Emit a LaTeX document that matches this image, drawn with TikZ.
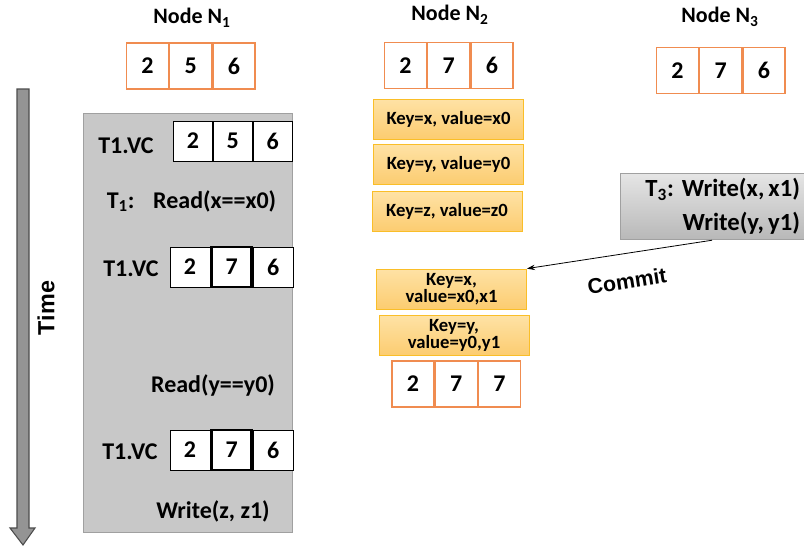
\documentclass[tikz,border=0pt]{standalone}
\usepackage{fontspec}
\setmainfont{Carlito}
\newfontfamily\arialfont{Liberation Sans}
\usetikzlibrary{positioning,arrows.meta}

\definecolor{cellorange}{RGB}{240,140,80}
\definecolor{keyedge}{RGB}{250,190,40}
\definecolor{keytop}{RGB}{254,226,165}
\definecolor{keybot}{RGB}{252,204,112}
\definecolor{boxgray}{RGB}{200,200,200}
\definecolor{boxedge}{RGB}{160,160,160}

\tikzset{
  ncell/.style={draw=cellorange, line width=0.9pt, fill=white, minimum width=31.5pt,
    minimum height=34.5pt, inner sep=0pt, font=\fontsize{18}{20}\selectfont\bfseries},
  vccell/.style={draw=black, line width=0.6pt, fill=white, minimum width=30pt,
    minimum height=30pt, inner sep=0pt, font=\fontsize{18}{20}\selectfont\bfseries},
  newcell/.style={vccell, line width=1.8pt},
  keybox/.style={draw=keyedge, line width=0.6pt, top color=keytop, bottom color=keybot,
    minimum width=112.5pt, minimum height=30pt, inner sep=1pt, align=center,
    font=\fontsize{14}{12.8}\selectfont\bfseries},
  title/.style={font=\fontsize{16.5}{19}\selectfont\bfseries},
  lbl/.style={font=\fontsize{18}{21}\selectfont\bfseries},
}

\begin{document}
\begin{tikzpicture}[x=0.75pt, y=-0.75pt]
\useasboundingbox (0,0) rectangle (804,546);

% node titles and their clocks
\node[title] (t1) at (192,18) {Node N\textsubscript{1}};
\node[title] (t2) at (450,15) {Node N\textsubscript{2}};
\node[title] (t3n) at (720,17) {Node N\textsubscript{3}};

\node[ncell] (n1a) at (147.5,66) {2};
\node[ncell, right=0pt of n1a] (n1b) {5};
\node[ncell, right=0pt of n1b] (n1c) {6};

\node[ncell] (n2a) at (405.5,65.5) {2};
\node[ncell, right=0pt of n2a] (n2b) {7};
\node[ncell, right=0pt of n2b] (n2c) {6};

\node[ncell] (n3a) at (677.5,70.5) {2};
\node[ncell, right=0pt of n3a] (n3b) {7};
\node[ncell, right=0pt of n3b] (n3c) {6};

% time axis
\draw[draw=black!70, fill=black!42, line width=0.8pt]
  (17,89) -- (29,89) -- (29,528) -- (35,528) -- (23,545) -- (10,528) -- (17,528) -- cycle;
\node[rotate=90, font=\arialfont\fontsize{17.5}{20}\selectfont\bfseries] (time) at (46,308) {Time};

% transaction T1 on N1
\draw[draw=boxedge, fill=boxgray, line width=0.6pt] (83,113) rectangle (292,532);

\node[lbl] (vc1) at (126,146) {T1.VC};
\node[vccell, minimum width=29.25pt] (vc1a) at (193,141) {2};
\node[vccell, minimum width=29.25pt, right=0pt of vc1a] (vc1b) {5};
\node[vccell, minimum width=29.25pt, right=0pt of vc1b] (vc1c) {6};

\node[lbl] (r1) at (191.5,201) {T\textsubscript{1}:\hspace{14pt}Read(x==x0)};

\node[lbl] (vc2) at (131,269) {T1.VC};
\node[vccell] (vc2a) at (190,267) {2};
\node[newcell, right=0pt of vc2a] (vc2b) {7};
\node[vccell, right=0pt of vc2b] (vc2c) {6};

\node[lbl] (r2) at (213,385) {Read(y==y0)};

\node[lbl] (vc3) at (130,452) {T1.VC};
\node[vccell] (vc3a) at (190,450) {2};
\node[newcell, right=0pt of vc3a] (vc3b) {7};
\node[vccell, right=0pt of vc3b] (vc3c) {6};

\node[lbl] (w1) at (213,511) {Write(z, z1)};

% versions stored on N2
\node[keybox] (kx0) at (448.5,119) {Key=x, value=x0};
\node[keybox] (ky0) at (448.5,164.5) {Key=y, value=y0};
\node[keybox] (kz0) at (447,211.5) {Key=z, value=z0};

\node[keybox] (kx1) at (451.5,289) {Key=x,\\value=x0,x1};
\node[keybox] (ky1) at (454,335.5) {Key=y,\\value=y0,y1};

\node[ncell] (m2a) at (413,384) {2};
\node[ncell, right=0pt of m2a] (m2b) {7};
\node[ncell, right=0pt of m2b] (m2c) {7};

% transaction T3
\node[draw=boxedge, top color=black!10, bottom color=black!28, line width=0.6pt,
  minimum height=50pt, text width=132pt, inner xsep=3pt, align=right,
  font=\fontsize{18.5}{25.5}\selectfont\bfseries] (t3) at (712,206.5)
  {T\textsubscript{3}:\hspace{6pt}Write(x,\,x1)\\Write(y,\,y1)};

\draw[-{Stealth[length=6pt,width=4pt]}, line width=0.6pt] (t3.south) -- (kx1.north east);
\node[rotate=9, font=\arialfont\fontsize{16}{18}\selectfont\bfseries] (commit) at (627,281) {Commit};

\end{tikzpicture}
\end{document}
